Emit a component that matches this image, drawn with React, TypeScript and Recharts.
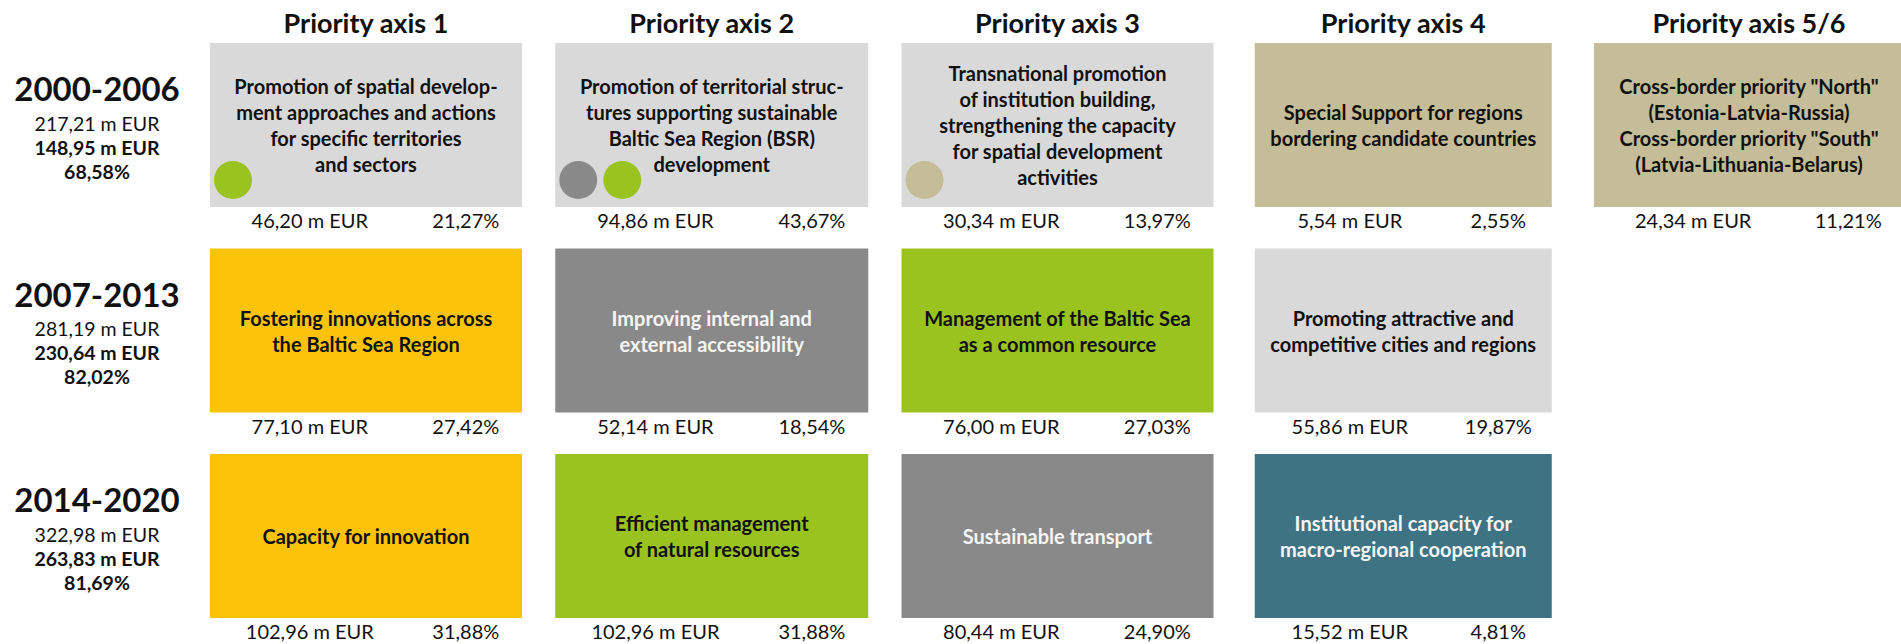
import React from 'react';
import { ScatterChart, Scatter, XAxis, YAxis } from 'recharts';

// ---------- data ----------
const priorityAxes = ['Priority axis 1', 'Priority axis 2', 'Priority axis 3', 'Priority axis 4', 'Priority axis 5/6'];
const periods = ['2000-2006', '2007-2013', '2014-2020'];
const periodTotal = [217.21, 281.19, 322.98];
const periodPriorityTotal = [148.95, 230.64, 263.83];
const periodPriorityShare = [68.58, 82.02, 81.69];

const titles2000 = [
  ['Promotion of spatial develop-', 'ment approaches and actions', 'for specific territories', 'and sectors'],
  ['Promotion of territorial struc-', 'tures supporting sustainable', 'Baltic Sea Region (BSR)', 'development'],
  ['Transnational promotion', 'of institution building,', 'strengthening the capacity', 'for spatial development', 'activities'],
  ['Special Support for regions', 'bordering candidate countries'],
  ['Cross-border priority "North"', '(Estonia-Latvia-Russia)', 'Cross-border priority "South"', '(Latvia-Lithuania-Belarus)'],
];
const amounts2000 = [46.2, 94.86, 30.34, 5.54, 24.34];
const shares2000 = [21.27, 43.67, 13.97, 2.55, 11.21];
const themes2000 = ['light', 'light', 'light', 'tan', 'tan'];
const markers2000 = [['green'], ['grey', 'green'], ['tan'], [], []];

const titles2007 = [
  ['Fostering innovations across', 'the Baltic Sea Region'],
  ['Improving internal and', 'external accessibility'],
  ['Management of the Baltic Sea', 'as a common resource'],
  ['Promoting attractive and', 'competitive cities and regions'],
];
const amounts2007 = [77.1, 52.14, 76.0, 55.86];
const shares2007 = [27.42, 18.54, 27.03, 19.87];
const themes2007 = ['yellow', 'grey', 'green', 'light'];

const titles2014 = [
  ['Capacity for innovation'],
  ['Efficient management', 'of natural resources'],
  ['Sustainable transport'],
  ['Institutional capacity for', 'macro-regional cooperation'],
];
const amounts2014 = [102.96, 102.96, 80.44, 15.52];
const shares2014 = [31.88, 31.88, 24.9, 4.81];
const themes2014 = ['yellow', 'green', 'grey', 'teal'];

const periodTitles = [titles2000, titles2007, titles2014];
const periodAmounts = [amounts2000, amounts2007, amounts2014];
const periodShares = [shares2000, shares2007, shares2014];
const periodThemes = [themes2000, themes2007, themes2014];
const periodMarkers = [markers2000, [], []];

// ---------- styles ----------
const FONT = "Lato, 'Open Sans', sans-serif";
const FILL: Record<string, string> = {
  light: '#D9D9D9',
  tan: '#C4BD97',
  yellow: '#FCC30B',
  grey: '#898989',
  green: '#9BC31F',
  teal: '#3E7384',
};
const TEXT_ON: Record<string, string> = {
  light: '#111111',
  tan: '#111111',
  yellow: '#111111',
  green: '#111111',
  grey: '#F5F5F5',
  teal: '#F5F5F5',
};
const COLUMN_BOX_WIDTH = [312, 313, 312, 297, 310];
const BOX_H = 164;
const LINE_H = 26;

const fmt = (v: number) => v.toFixed(2).replace('.', ',');

const cells = periods.flatMap((_, p) =>
  periodTitles[p].map((lines, c) => ({
    x: c,
    y: p,
    lines,
    amount: periodAmounts[p][c],
    share: periodShares[p][c],
    theme: periodThemes[p][c],
    markers: (periodMarkers[p] as string[][])[c] || [],
  }))
);

const CellShape = (props: any) => {
  const { cx, cy, payload } = props;
  if (cx == null || cy == null) return null;
  const w = COLUMN_BOX_WIDTH[payload.x];
  const left = cx - w / 2;
  const top = cy - BOX_H / 2;
  const color = TEXT_ON[payload.theme];
  const n = payload.lines.length;
  const firstY = cy - ((n - 1) * LINE_H) / 2;
  return (
    <g>
      <rect x={left} y={top} width={w} height={BOX_H} fill={FILL[payload.theme]} />
      {payload.markers.map((m: string, k: number) => (
        <circle key={k} cx={left + 23 + k * 44} cy={cy + 55} r={19} fill={FILL[m]} />
      ))}
      {payload.lines.map((line: string, k: number) => (
        <text
          key={k}
          x={cx}
          y={firstY + k * LINE_H}
          textAnchor="middle"
          dominantBaseline="central"
          fontFamily={FONT}
          fontWeight={700}
          fontSize={20}
          fill={color}
        >
          {line}
        </text>
      ))}
      <text
        x={left + w * 0.32}
        y={top + BOX_H + 13}
        textAnchor="middle"
        dominantBaseline="central"
        fontFamily={FONT}
        fontSize={20}
        fill="#111111"
      >
        {fmt(payload.amount)} m EUR
      </text>
      <text
        x={left + w * 0.82}
        y={top + BOX_H + 13}
        textAnchor="middle"
        dominantBaseline="central"
        fontFamily={FONT}
        fontSize={20}
        fill="#111111"
      >
        {fmt(payload.share)}%
      </text>
    </g>
  );
};

const AxisTitleTick = (props: any) => {
  const { x, y, payload } = props;
  return (
    <text
      x={x}
      y={y - 103}
      textAnchor="middle"
      dominantBaseline="central"
      fontFamily={FONT}
      fontWeight={700}
      fontSize={27}
      fill="#111111"
    >
      {priorityAxes[payload.value]}
    </text>
  );
};

const PeriodTick = (props: any) => {
  const { x, y, payload } = props;
  const i = payload.value;
  const cx = x - 269;
  return (
    <g>
      <text x={cx} y={y - 37} textAnchor="middle" dominantBaseline="central" fontFamily={FONT} fontWeight={700} fontSize={33} fill="#111111">
        {periods[i]}
      </text>
      <text x={cx} y={y - 2} textAnchor="middle" dominantBaseline="central" fontFamily={FONT} fontSize={19.5} fill="#111111">
        {fmt(periodTotal[i])} m EUR
      </text>
      <text x={cx} y={y + 22} textAnchor="middle" dominantBaseline="central" fontFamily={FONT} fontWeight={700} fontSize={19.5} fill="#111111">
        {fmt(periodPriorityTotal[i])} m EUR
      </text>
      <text x={cx} y={y + 46} textAnchor="middle" dominantBaseline="central" fontFamily={FONT} fontWeight={700} fontSize={19.5} fill="#111111">
        {fmt(periodPriorityShare[i])}%
      </text>
    </g>
  );
};

export default function App() {
  return (
    <div style={{ width: 1901, height: 644, overflow: 'hidden', background: '#ffffff' }}>
      <style>{'body{margin:0;}'}</style>
      <ScatterChart width={1901} height={644} margin={{ top: 95, right: 152, bottom: 108, left: 0 }}>
        <XAxis
          type="number"
          dataKey="x"
          orientation="top"
          domain={[0, 4]}
          ticks={[0, 1, 2, 3, 4]}
          height={30}
          axisLine={false}
          tickLine={false}
          tickSize={0}
          tickMargin={0}
          tick={<AxisTitleTick />}
          interval={0}
        />
        <YAxis
          type="number"
          dataKey="y"
          domain={[0, 2]}
          ticks={[0, 1, 2]}
          reversed
          width={366}
          axisLine={false}
          tickLine={false}
          tickSize={0}
          tickMargin={0}
          tick={<PeriodTick />}
          interval={0}
        />
        <Scatter data={cells} shape={<CellShape />} isAnimationActive={false} />
      </ScatterChart>
    </div>
  );
}
